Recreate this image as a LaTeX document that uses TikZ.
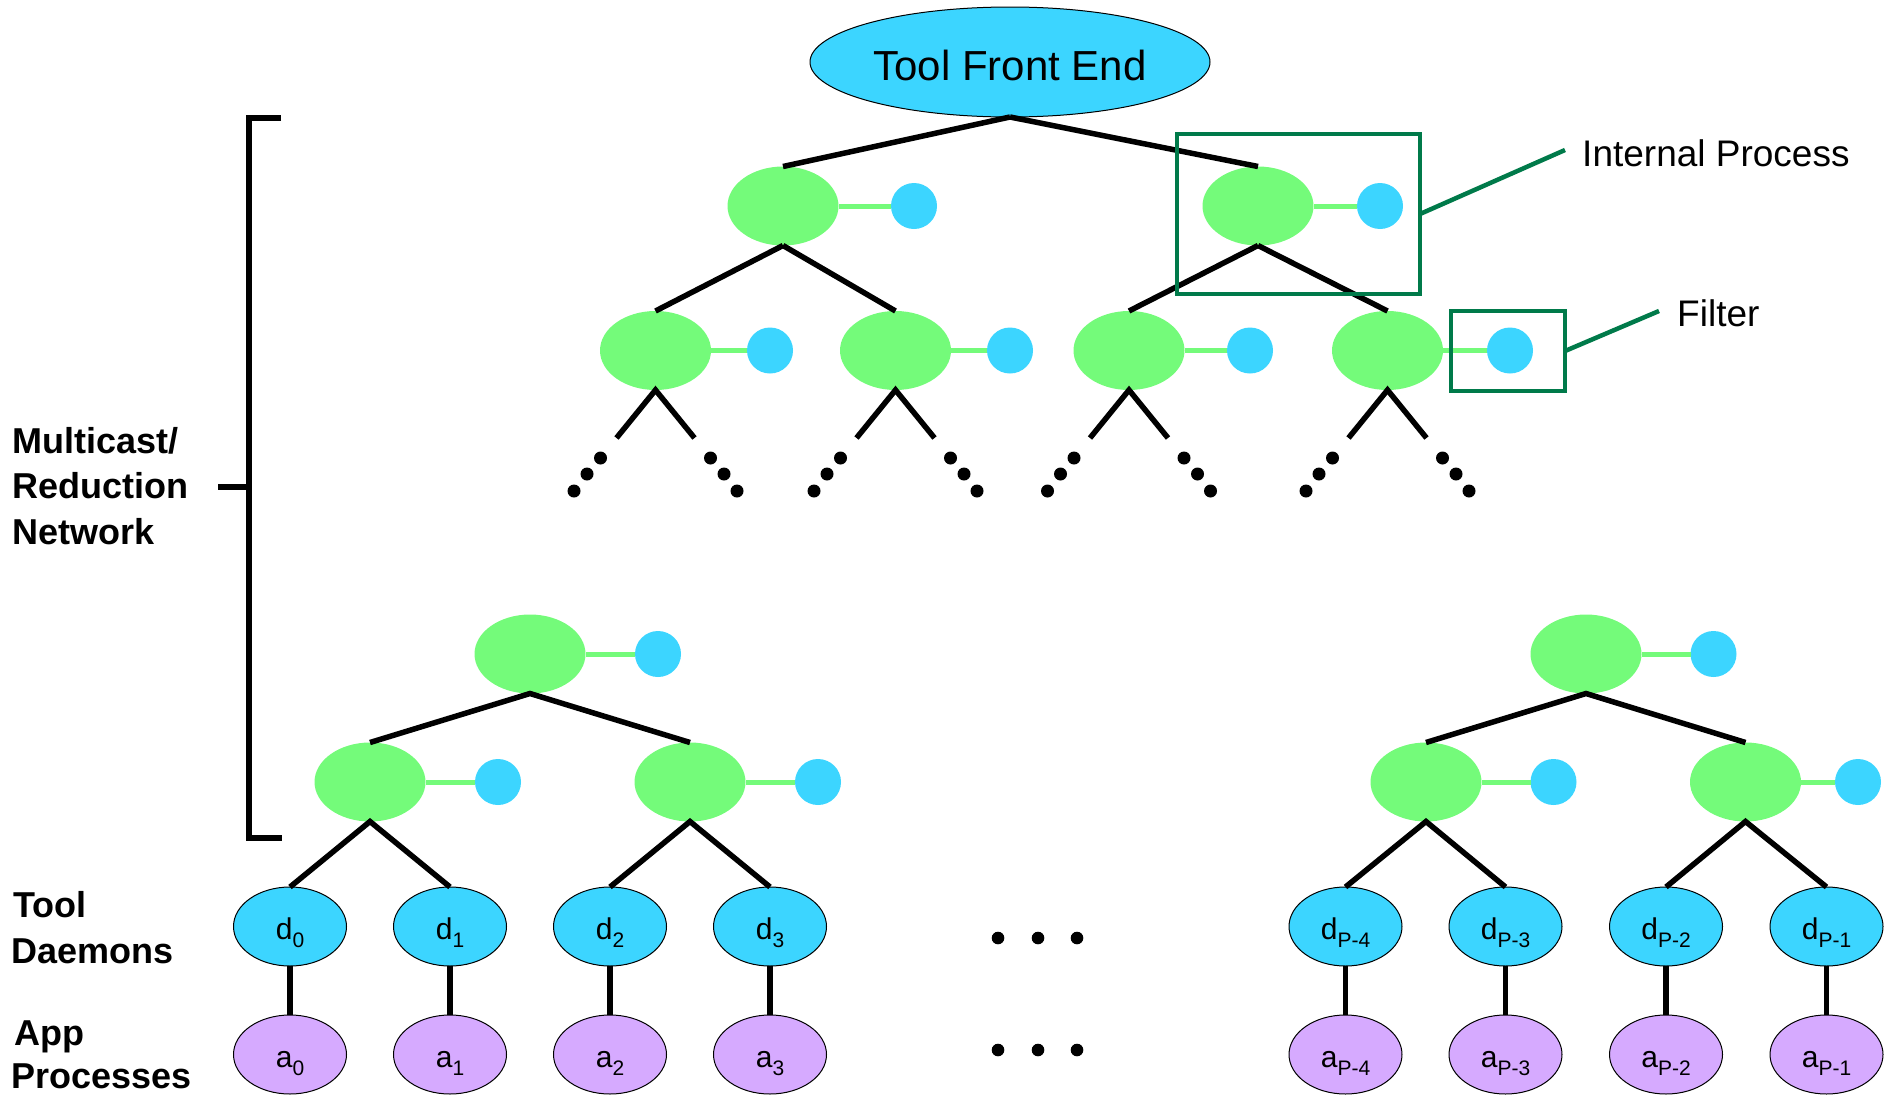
\documentclass[tikz,border=0pt]{standalone}
\usepackage{fontspec}
\setmainfont{Liberation Sans}
\usetikzlibrary{shapes.geometric}

\definecolor{procgreen}{RGB}{116,251,122}
\definecolor{filtblue}{RGB}{60,213,255}
\definecolor{applilac}{RGB}{214,170,255}
\definecolor{markgreen}{RGB}{0,122,74}

\tikzset{
  proc/.style={ellipse, fill=procgreen, minimum width=111pt, minimum height=79pt,
    inner sep=0pt, outer sep=0pt},
  filt/.style={circle, fill=filtblue, minimum size=46pt, inner sep=0pt, outer sep=0pt},
  link/.style={procgreen, line width=5pt},
  tree/.style={black, line width=5.5pt},
  daemon/.style={ellipse, draw=black, line width=1pt, fill=filtblue,
    minimum width=113pt, minimum height=79pt, inner sep=0pt, outer sep=0pt,
    text height=33pt, text depth=8pt, font=\fontsize{30}{35}\selectfont},
  app/.style={daemon, fill=applilac},
  lbl/.style={anchor=base west, inner sep=0pt, font=\bfseries\fontsize{36}{43}\selectfont},
  note/.style={anchor=base west, inner sep=0pt, font=\fontsize{37}{45}\selectfont},
  callout/.style={markgreen, line width=4.5pt},
}
\newcommand{\subidx}[1]{\raisebox{-8pt}{\fontsize{21}{25}\selectfont #1}}

\begin{document}
\begin{tikzpicture}[x=1pt, y=-1pt]
\useasboundingbox (0,0) rectangle (1888,1095);

% front end
\node[ellipse, draw=black, line width=1pt, fill=filtblue, minimum width=400pt,
  minimum height=110pt, inner sep=0pt, outer sep=0pt, text height=36pt, text depth=0pt,
  font=\fontsize{42}{50}\selectfont] (fe) at (1010,62) {Tool Front End};

% first level of internal processes
\node[proc] (p1) at (783,206) {};
\node[filt] (f1) at (914,206) {};
\node[proc] (p2) at (1258,206) {};
\node[filt] (f2) at (1380,206) {};
\draw[link] (p1.east) -- (f1.west);
\draw[link] (p2.east) -- (f2.west);
\draw[tree] (fe.south) -- (p1.north);
\draw[tree] (fe.south) -- (p2.north);

% second level, each continuing downwards
\foreach \i/\x/\bx in {1/655.5/770, 2/895.5/1010, 3/1129/1250, 4/1387.5/1510} {
  \node[proc] (m\i) at (\x,350.5) {};
  \node[filt] (mf\i) at (\bx,350.5) {};
  \draw[link] (m\i.east) -- (mf\i.west);
  \coordinate (m\i L) at ({\x-39},438);
  \coordinate (m\i R) at ({\x+39},438);
  \draw[tree] (m\i L) -- (m\i.south) -- (m\i R);
  \fill ({\x-81.5},491) circle (6.5pt) ({\x-68.5},474) circle (6.5pt) ({\x-55},458) circle (6.5pt);
  \fill ({\x+81.5},491) circle (6.5pt) ({\x+68.5},474) circle (6.5pt) ({\x+55},458) circle (6.5pt);
}
\draw[tree] (p1.south) -- (m1.north);
\draw[tree] (p1.south) -- (m2.north);
\draw[tree] (p2.south) -- (m3.north);
\draw[tree] (p2.south) -- (m4.north);

% callouts
\draw[callout] (1177,134) rectangle (1420,294);
\draw[callout] (1451,311) rectangle (1565,391);
\coordinate (ipc) at (1420,214);
\coordinate (flc) at (1565,351);
\node[note] (iplbl) at (1582,166) {Internal Process};
\node[note] (fllbl) at (1677,326) {Filter};
\draw[callout] (ipc) -- (1565,150);
\draw[callout] (flc) -- (1659,311);

% lower subtrees
\node[proc] (b0) at (530,654) {};
\node[filt] (bf0) at (658,654) {};
\node[proc] (b1) at (370,782) {};
\node[filt] (bf1) at (498,782) {};
\node[proc] (b2) at (690,782) {};
\node[filt] (bf2) at (818,782) {};
\node[proc] (b3) at (1586,654) {};
\node[filt] (bf3) at (1713.5,654) {};
\node[proc] (b4) at (1426,782) {};
\node[filt] (bf4) at (1553.5,782) {};
\node[proc] (b5) at (1745.5,782) {};
\node[filt] (bf5) at (1858,782) {};
\foreach \i in {0,...,5} { \draw[link] (b\i.east) -- (bf\i.west); }
\draw[tree] (b1.north) -- (b0.south) -- (b2.north);
\draw[tree] (b4.north) -- (b3.south) -- (b5.north);

% daemons and application processes
\node[daemon] (d0) at (290,926.5) {d\subidx{0}};
\node[daemon] (d1) at (450,926.5) {d\subidx{1}};
\node[daemon] (d2) at (610,926.5) {d\subidx{2}};
\node[daemon] (d3) at (770,926.5) {d\subidx{3}};
\node[daemon] (d4) at (1345.5,926.5) {d\subidx{P-4}};
\node[daemon] (d5) at (1505.5,926.5) {d\subidx{P-3}};
\node[daemon] (d6) at (1666,926.5) {d\subidx{P-2}};
\node[daemon] (d7) at (1826.5,926.5) {d\subidx{P-1}};
\node[app] (a0) at (290,1054.5) {a\subidx{0}};
\node[app] (a1) at (450,1054.5) {a\subidx{1}};
\node[app] (a2) at (610,1054.5) {a\subidx{2}};
\node[app] (a3) at (770,1054.5) {a\subidx{3}};
\node[app] (a4) at (1345.5,1054.5) {a\subidx{P-4}};
\node[app] (a5) at (1505.5,1054.5) {a\subidx{P-3}};
\node[app] (a6) at (1666,1054.5) {a\subidx{P-2}};
\node[app] (a7) at (1826.5,1054.5) {a\subidx{P-1}};
\foreach \i in {0,...,7} { \draw[tree] (d\i.south) -- (a\i.north); }
\draw[tree] (d0.north) -- (b1.south) -- (d1.north);
\draw[tree] (d2.north) -- (b2.south) -- (d3.north);
\draw[tree] (d4.north) -- (b4.south) -- (d5.north);
\draw[tree] (d6.north) -- (b5.south) -- (d7.north);

% ellipsis between the two halves
\foreach \x in {998,1038,1077} {
  \fill (\x,938) circle (6.3pt);
  \fill (\x,1050) circle (6.3pt);
}

% bracket spanning the network
\coordinate (brt) at (281,118);
\coordinate (brb) at (282,838);
\coordinate (brm) at (218,487);
\draw[tree] (brt) -- (249,118) -- (249,838) -- (brb);
\draw[tree] (brm) -- (249,487);

% row labels
\node[lbl] (l1) at (12.4,453) {Multicast/};
\node[lbl] (l2) at (12.4,498.5) {Reduction};
\node[lbl] (l3) at (12.4,544) {Network};
\node[lbl] (l4) at (13,917) {Tool};
\node[lbl] (l5) at (11.5,963) {Daemons};
\node[lbl] (l6) at (14,1045) {App};
\node[lbl] (l7) at (11.5,1088) {Processes};
\end{tikzpicture}
\end{document}
